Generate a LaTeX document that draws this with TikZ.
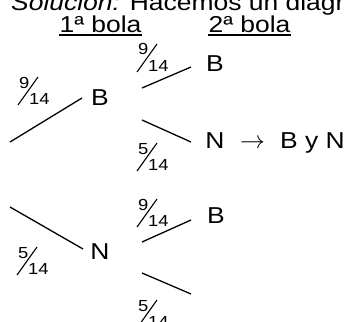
\documentclass[tikz,border=0pt]{standalone}
\usepackage{fontspec}
\setmainfont[FakeStretch=1.15]{Liberation Sans}
\newcommand\fracat[5]{%
  \node[num] (#1n) at (#2-10,#3-16) {#4};
  \node[num] (#1d) at (#2,#3) {#5};
  \draw[slash] (#2-11,#3+1) -- (#2+9,#3-27);}
\begin{document}
\begin{tikzpicture}[x=1pt,y=-1pt,
  lbl/.style={inner sep=0pt, anchor=base, font=\fontsize{23}{27}\selectfont},
  num/.style={inner sep=0pt, anchor=base west, font=\fontsize{16}{19}\selectfont},
  branch/.style={line width=1.3pt},
  slash/.style={line width=1.1pt},
  uline/.style={line width=1.3pt}]
\useasboundingbox (0,0) rectangle (345,321);
\clip (0,0) rectangle (345,321);
% title (cut by the top edge)
\node[inner sep=0pt, anchor=base west, font=\fontsize{23}{27}\selectfont] (title) at (11,11)
  {\textit{Solución:} Hacemos un diagrama de árbol};
% headers
\node[lbl] (h1) at (100.5,33) {1ª bola};
\node[lbl] (h2) at (249.5,33) {2ª bola};
\draw[uline] ([yshift=-2pt]h1.base west) -- ([yshift=-2pt]h1.base east);
\draw[uline] ([yshift=-2pt]h2.base west) -- ([yshift=-2pt]h2.base east);
% nodes
\node[lbl] (B1) at (100,105) {B};
\node[lbl] (N1) at (100,259) {N};
\node[lbl] (B2) at (215,71) {B};
\node[lbl] (N2) at (215,148) {N};
\node[lbl] (arr) at (252.5,148) {$\rightarrow$};
\node[lbl] (BN) at (312.5,148) {B y N};
\node[lbl] (B3) at (216,223) {B};
% connector end points
\coordinate (r1) at (10,142);
\coordinate (r2) at (10,207);
\coordinate (b1in) at (82,98);
\coordinate (n1in) at (83,249);
\coordinate (b1o) at (142,88);
\coordinate (b2in) at (191,67);
\coordinate (b1p) at (142,120);
\coordinate (n2in) at (191,142);
\coordinate (n1o) at (142,242);
\coordinate (b3in) at (191,220);
\coordinate (n1p) at (142,273);
\coordinate (e4) at (191,294);
\draw[branch] (r1) -- (b1in);
\draw[branch] (r2) -- (n1in);
\draw[branch] (b1o) -- (b2in);
\draw[branch] (b1p) -- (n2in);
\draw[branch] (n1o) -- (b3in);
\draw[branch] (n1p) -- (e4);
% fractions
\fracat{f1}{29}{104}{9}{14}
\fracat{f2}{148}{71}{9}{14}
\fracat{f3}{148}{170}{5}{14}
\fracat{f4}{148}{226}{9}{14}
\fracat{f5}{28}{274}{5}{14}
\fracat{f6}{148}{327}{5}{14}
\end{tikzpicture}
\end{document}
